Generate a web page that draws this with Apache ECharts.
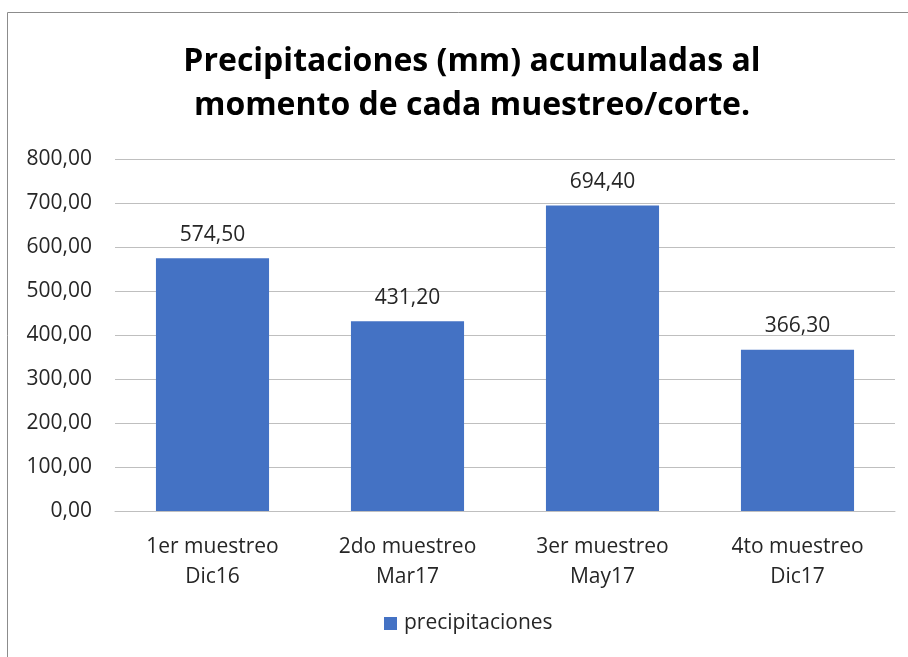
<!DOCTYPE html>
<html>
<head>
<meta charset="utf-8">
<script src="https://cdn.jsdelivr.net/npm/echarts@6/dist/echarts.min.js"></script>
<style>
  html, body { margin: 0; padding: 0; background: #fff; }
  #chart { width: 908px; height: 657px; }
</style>
</head>
<body>
<div id="chart"></div>
<script>
const categories = ['1er muestreo\nDic16', '2do muestreo\nMar17', '3er muestreo\nMay17', '4to muestreo\nDic17'];
const precipitaciones = [574.5, 431.2, 694.4, 366.3];
const titleText = 'Precipitaciones (mm) acumuladas al\nmomento de cada muestreo/corte.';

const fmt = v => v.toFixed(2).replace('.', ',');
const font = '"Open Sans", "Noto Sans", sans-serif';

const chart = echarts.init(document.getElementById('chart'));
const option = {
    animation: false,
    textStyle: { fontFamily: font },
    graphic: [{
        type: 'rect',
        shape: { x: 7.5, y: 12.5, width: 920, height: 660 },
        style: { fill: 'none', stroke: '#8c8c8c', lineWidth: 1 },
        silent: true
    }],
    title: {
        text: titleText,
        left: 467,
        textAlign: 'center',
        top: 35,
        textStyle: { fontFamily: font, fontSize: 32, fontWeight: 'bold', color: '#000', lineHeight: 44 }
    },
    legend: {
        bottom: 18,
        left: 379,
        itemWidth: 13,
        itemHeight: 13,
        itemGap: 7,
        icon: 'rect',
        textStyle: { fontFamily: font, fontSize: 21, color: '#262626', padding: [0, 0, 0, 2] }
    },
    grid: { left: 115, right: 13, top: 159, bottom: 146 },
    xAxis: {
        type: 'category',
        data: categories,
        axisTick: { show: false },
        axisLine: { lineStyle: { color: '#bfbfbf' } },
        axisLabel: { fontFamily: font, fontSize: 21, color: '#262626', lineHeight: 30, margin: 21 }
    },
    yAxis: {
        type: 'value',
        min: 0,
        max: 800,
        interval: 100,
        axisLabel: { fontFamily: font, fontSize: 21, color: '#262626', formatter: fmt, margin: 23 },
        splitLine: { lineStyle: { color: '#bfbfbf' } }
    },
    series: [{
        name: 'precipitaciones',
        type: 'bar',
        data: precipitaciones,
        barWidth: '58%',
        itemStyle: { color: '#4472C4' },
        label: {
            show: true,
            position: 'top',
            distance: 13,
            formatter: p => fmt(p.value),
            fontFamily: font,
            fontSize: 21,
            color: '#262626'
        }
    }]
};
chart.setOption(option);
</script>
</body>
</html>
